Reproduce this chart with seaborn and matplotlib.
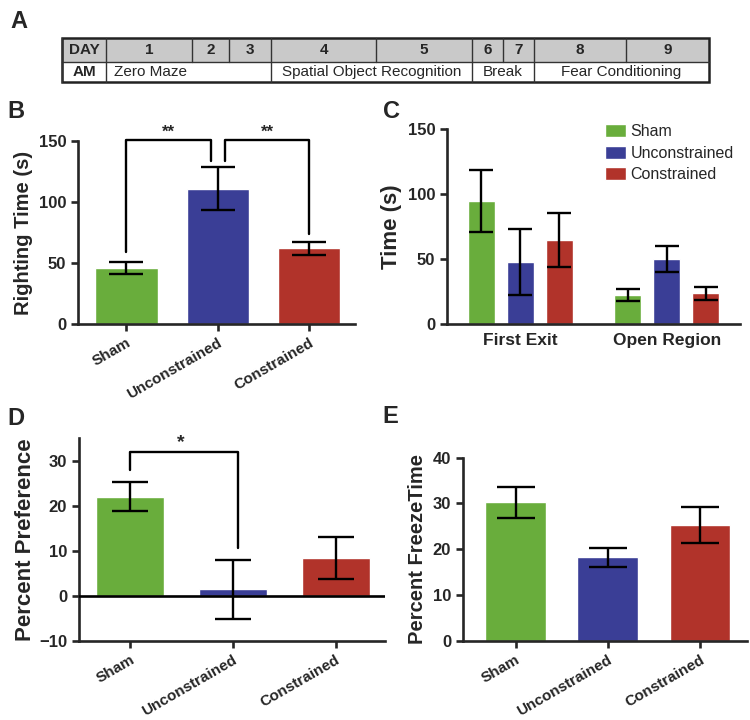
import numpy as np
import pandas as pd
import matplotlib
matplotlib.use("Agg")
import matplotlib.pyplot as plt
from matplotlib.patches import Rectangle
import seaborn as sns

# ---------------- data ----------------
groups = ["Sham", "Unconstrained", "Constrained"]
colors = ["#69ad3c", "#3a3e96", "#b1332a"]

righting_mean = [46, 111, 62]
righting_sem = [5, 17.5, 5.5]

zero_measures = ["First Exit", "Open Region"]
zero_sham_mean = [95, 22.5]
zero_uncon_mean = [48, 50]
zero_con_mean = [65, 24]
zero_sham_sem = [24, 4.8]
zero_uncon_sem = [25.5, 10]
zero_con_sem = [21, 5]

pref_mean = [22, 1.4, 8.3]
pref_sem = [3.3, 6.5, 4.7]

freeze_mean = [30.3, 18.2, 25.3]
freeze_sem = [3.4, 2.1, 4.0]

day_labels = ["DAY", "1", "2", "3", "4", "5", "6", "7", "8", "9"]
am_labels = ["AM", "Zero Maze", "Spatial Object Recognition", "Break", "Fear Conditioning"]
am_spans = [(0, 1), (1, 4), (4, 6), (6, 8), (8, 10)]

# ---------------- style ----------------
sns.set_style("ticks")
plt.rcParams["font.family"] = ["Liberation Sans", "DejaVu Sans"]

W, H = 750, 720
fig = plt.figure(figsize=(W / 100, H / 100), dpi=100)


def px_axes(left, right, top, bottom):
    return fig.add_axes([left / W, 1 - bottom / H, (right - left) / W, (bottom - top) / H])


def style(ax, labelsize=12):
    sns.despine(ax=ax)
    for s in ["left", "bottom"]:
        ax.spines[s].set_linewidth(1.9)
    ax.tick_params(axis="both", width=1.9, length=5, direction="out", labelsize=labelsize)
    for lab in ax.get_yticklabels():
        lab.set_fontweight("bold")


def rot_labels(ax):
    ax.set_xticks(range(len(groups)))
    ax.set_xticklabels(groups, rotation=30, ha="right", rotation_mode="anchor",
                       fontweight="bold", fontsize=11)


ekw = dict(fmt="none", ecolor="black", elinewidth=1.7, capthick=1.7, zorder=5)

# ---------------- panel A (table) ----------------
col_edges = [62, 106, 192, 229, 271, 376, 472, 503, 534, 626, 709]
row_top, row_mid, row_bot = 37.5, 61.5, 81.5
axA = px_axes(55, 716, 30, 88)
axA.set_xlim(55, 716)
axA.set_ylim(88, 30)
axA.axis("off")
axA.add_patch(Rectangle((col_edges[0], row_top), col_edges[-1] - col_edges[0], row_mid - row_top,
                        facecolor="#c9c9c9", edgecolor="none"))
for i, lab in enumerate(day_labels):
    x0, x1 = col_edges[i], col_edges[i + 1]
    axA.plot([x0, x0], [row_top, row_mid], color="#333333", lw=1.0)
    axA.text((x0 + x1) / 2, (row_top + row_mid) / 2 + 0.5, lab, ha="center", va="center",
             fontsize=11, fontweight="bold")
for (a, b), lab in zip(am_spans, am_labels):
    x0, x1 = col_edges[a], col_edges[b]
    axA.plot([x0, x0], [row_mid, row_bot], color="#333333", lw=1.0)
    if lab == "Zero Maze":
        axA.text(x0 + 8, (row_mid + row_bot) / 2 + 0.5, lab, ha="left", va="center", fontsize=11)
    else:
        axA.text((x0 + x1) / 2, (row_mid + row_bot) / 2 + 0.5, lab, ha="center", va="center",
                 fontsize=11, fontweight="bold" if lab == "AM" else "normal")
axA.plot([col_edges[0], col_edges[-1]], [row_mid, row_mid], color="#333333", lw=1.0)
axA.add_patch(Rectangle((col_edges[0], row_top), col_edges[-1] - col_edges[0], row_bot - row_top,
                        facecolor="none", edgecolor="#222222", lw=1.8))

# ---------------- panel B ----------------
axB = px_axes(78, 355, 141, 324)
dfB = pd.DataFrame({"group": groups, "value": righting_mean})
sns.barplot(data=dfB, x="group", y="value", hue="group", order=groups, hue_order=groups,
            palette=colors, width=0.68, errorbar=None, legend=False, saturation=1, ax=axB)
axB.errorbar(range(3), righting_mean, yerr=righting_sem, capsize=12.5, **ekw)
axB.set_ylim(0, 150)
axB.set_yticks([0, 50, 100, 150])
axB.set_xlim(-0.53, 2.5)
axB.set_xlabel("")
axB.set_ylabel("Righting Time (s)", fontsize=14.5, fontweight="bold", labelpad=4)
style(axB)
rot_labels(axB)
bk = dict(color="black", lw=1.7, clip_on=False)
axB.plot([0, 0, 0.92, 0.92], [59, 151, 151, 133.5], **bk)
axB.plot([1.08, 1.08, 2, 2], [134, 151, 151, 74], **bk)
axB.text(0.46, 151, "**", ha="center", va="bottom", fontsize=12, fontweight="bold")
axB.text(1.54, 151, "**", ha="center", va="bottom", fontsize=12, fontweight="bold")

# ---------------- panel C ----------------
axC = px_axes(447, 740, 129.3, 324.3)
dfC = pd.DataFrame({
    "measure": zero_measures * 3,
    "group": [g for g in groups for _ in zero_measures],
    "value": zero_sham_mean + zero_uncon_mean + zero_con_mean,
})
sns.barplot(data=dfC, x="measure", y="value", hue="group", order=zero_measures, hue_order=groups,
            palette=colors, width=0.8, gap=0.31, errorbar=None, saturation=1, ax=axC)
for cont, sems in zip(axC.containers, [zero_sham_sem, zero_uncon_sem, zero_con_sem]):
    xs = [p.get_x() + p.get_width() / 2 for p in cont.patches]
    hs = [p.get_height() for p in cont.patches]
    axC.errorbar(xs, hs, yerr=sems, capsize=8.3, **ekw)
axC.set_ylim(0, 150)
axC.set_yticks([0, 50, 100, 150])
axC.set_xlim(-0.5, 1.5)
axC.set_xlabel("")
axC.set_ylabel("Time (s)", fontsize=16, fontweight="bold", labelpad=4)
style(axC)
axC.tick_params(axis="x", length=0, pad=6)
for lab in axC.get_xticklabels():
    lab.set_fontweight("bold")
    lab.set_fontsize(12.5)
axC.legend(loc="upper right", bbox_to_anchor=(1.0, 1.06), frameon=False, fontsize=11.5,
           handlelength=1.3, handleheight=0.9, labelspacing=0.4, handletextpad=0.3,
           borderaxespad=0)

# ---------------- panel D ----------------
axD = px_axes(79, 385, 438, 640.7)
dfD = pd.DataFrame({"group": groups, "value": pref_mean})
sns.barplot(data=dfD, x="group", y="value", hue="group", order=groups, hue_order=groups,
            palette=colors, width=0.66, errorbar=None, legend=False, saturation=1, ax=axD)
axD.errorbar(range(3), pref_mean, yerr=pref_sem, capsize=13.2, **ekw)
axD.axhline(0, color="black", lw=1.9, zorder=4)
axD.set_ylim(-10, 35)
axD.set_yticks([-10, 0, 10, 20, 30])
axD.set_xlim(-0.495, 2.48)
axD.set_xlabel("")
axD.set_ylabel("Percent Preference", fontsize=16, fontweight="bold", labelpad=2)
style(axD)
rot_labels(axD)
axD.plot([0, 0, 1.05, 1.05], [27.8, 32, 32, 10.5], **bk)
axD.text(0.49, 32.0, "*", ha="center", va="bottom", fontsize=14, fontweight="bold")

# ---------------- panel E ----------------
axE = px_axes(463, 747, 457.7, 640.7)
dfE = pd.DataFrame({"group": groups, "value": freeze_mean})
sns.barplot(data=dfE, x="group", y="value", hue="group", order=groups, hue_order=groups,
            palette=colors, width=0.66, errorbar=None, legend=False, saturation=1, ax=axE)
axE.errorbar(range(3), freeze_mean, yerr=freeze_sem, capsize=14, **ekw)
axE.set_ylim(0, 40)
axE.set_yticks([0, 10, 20, 30, 40])
axE.set_xlim(-0.57, 2.51)
axE.set_xlabel("")
axE.set_ylabel("Percent FreezeTime", fontsize=14.5, fontweight="bold", labelpad=4)
style(axE)
rot_labels(axE)

# ---------------- panel letters ----------------
for lab, x, y in [("A", 10, 10), ("B", 7, 100), ("C", 383, 100), ("D", 7, 407), ("E", 382, 405)]:
    fig.text(x / W, 1 - y / H, lab, fontsize=17, fontweight="bold", ha="left", va="top")

fig.savefig("out.png", dpi=100)
